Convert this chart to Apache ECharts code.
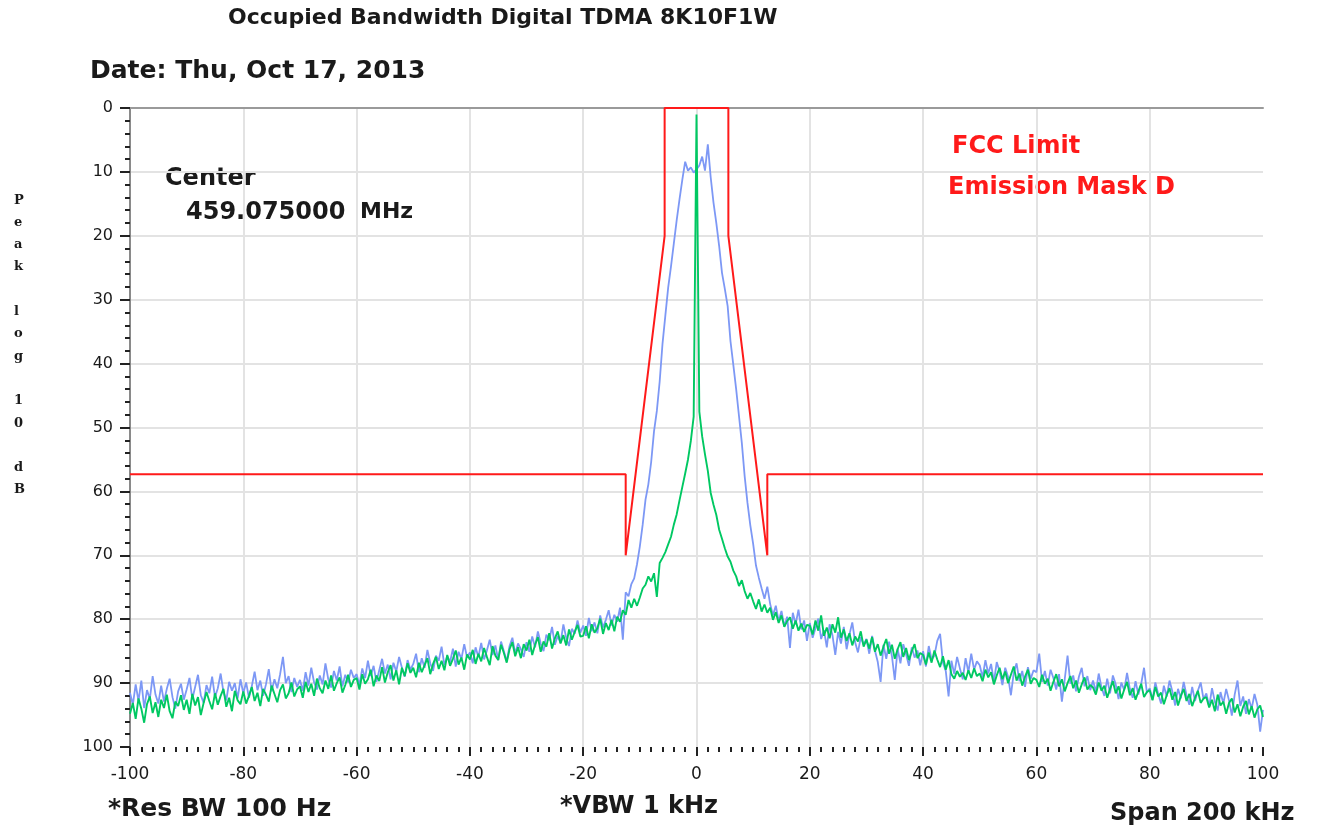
<!DOCTYPE html>
<html>
<head>
<meta charset="utf-8">
<title>Occupied Bandwidth Digital TDMA 8K10F1W</title>
<script src="https://cdn.jsdelivr.net/npm/echarts@6/dist/echarts.min.js"></script>
<style>
  html, body { margin: 0; padding: 0; background: #fff; }
  #chart { width: 1319px; height: 832px; }
</style>
</head>
<body>
<div id="chart"></div>
<script>
// frequency offset axis, kHz (trace sampled every 0.5 kHz)
var freqStart = -100;
var freqStep = 0.5;

// modulated signal (blue), dB below peak, one row per 10 kHz
var blueLevel = [
  91.5, 93.4, 90.2, 92.8, 89.6, 93.9, 91.1, 92.5, 88.9, 91.8, 93.2, 90.4, 92.9, 90.9, 89.3, 92.2, 94.0, 91.3, 90.1, 92.6,
  91.0, 89.2, 92.5, 90.6, 88.7, 91.9, 93.1, 90.3, 91.6, 89.0, 92.2, 90.8, 88.5, 91.4, 92.7, 89.8, 91.2, 90.0, 92.4, 89.4,
  91.6, 89.9, 92.3, 90.5, 88.2, 91.1, 89.6, 92.0, 90.2, 87.8, 91.3, 89.4, 90.8, 88.6, 85.9, 90.0, 88.9, 91.4, 89.2, 90.6,
  89.5, 91.2, 88.3, 90.4, 87.6, 89.9, 91.0, 88.8, 90.2, 86.9, 89.4, 90.7, 88.1, 89.6, 87.4, 90.5, 88.7, 89.9, 87.9, 89.2,
  88.6, 90.3, 87.7, 89.2, 86.5, 88.9, 87.3, 89.8, 88.0, 86.2, 88.5, 87.1, 89.4, 86.8, 88.2, 85.9, 87.6, 89.0, 86.4, 87.9,
  87.0, 85.4, 88.3, 86.1, 87.6, 84.8, 86.9, 88.1, 85.7, 86.5, 84.3, 87.2, 85.8, 86.7, 84.6, 87.4, 85.1, 86.2, 83.9, 86.0,
  85.2, 86.9, 84.4, 85.9, 83.7, 86.3, 84.9, 83.2, 85.6, 84.1, 86.4, 83.5, 85.0, 86.6, 84.2, 82.9, 85.4, 83.8, 84.7, 85.9,
  83.6, 85.1, 82.7, 84.4, 81.9, 83.8, 85.0, 82.4, 83.3, 81.2, 84.0, 82.6, 83.7, 80.8, 82.9, 84.2, 81.5, 82.3, 80.2, 82.1,
  81.0, 82.6, 79.8, 81.9, 80.5, 82.2, 79.4, 81.3, 80.1, 78.6, 81.0, 79.3, 80.4, 78.2, 83.2, 75.8, 76.4, 74.5, 73.6, 71.4,
  68.6, 65.2, 61.3, 58.9, 55.4, 50.6, 47.4, 42.8, 36.9, 32.5, 28.1, 24.8, 21.2, 17.6, 14.3, 11.2, 8.4, 9.8, 9.3, 10.1,
  9.6,
  9.0, 7.6, 9.8, 5.7, 10.8, 14.8, 18.0, 21.6, 25.8, 28.3, 31.0, 36.5, 40.2, 44.0, 48.2, 52.4, 57.6, 61.8, 65.3,
  68.2, 71.6, 73.5, 75.2, 76.8, 74.9, 77.6, 79.4, 77.9, 80.3, 78.7, 81.1, 79.6, 84.5, 79.0, 80.8, 78.5, 81.6, 80.2, 83.4,
  80.6, 82.9, 81.4, 79.9, 83.1, 81.7, 84.4, 80.8, 82.5, 85.6, 82.0, 83.8, 81.2, 84.7, 82.4, 80.5, 83.6, 85.2, 82.8, 84.0,
  83.1, 85.4, 82.6, 84.9, 86.7, 89.8, 84.0, 86.2, 83.5, 85.8, 89.5, 84.6, 86.9, 83.9, 85.5, 87.3, 84.4, 86.0, 84.9, 87.2,
  85.0, 87.4, 84.2, 86.3, 85.7, 83.4, 82.3, 86.8, 88.1, 92.1, 86.5, 88.6, 85.9, 87.7, 89.4, 86.1, 88.3, 85.4, 87.9, 86.6,
  87.2, 89.1, 86.4, 88.5, 87.0, 89.8, 86.7, 88.2, 90.3, 87.6, 89.0, 91.9, 88.4, 86.9, 89.7, 88.1, 90.6, 87.5, 89.3, 88.0,
  88.3, 85.4, 89.8, 88.1, 90.4, 87.9, 89.2, 91.0, 88.6, 92.9, 89.4, 85.7, 90.1, 88.8, 91.3, 89.0, 87.6, 90.5, 88.9, 91.1,
  89.6, 91.4, 88.5, 90.7, 92.0, 89.3, 91.6, 88.8, 90.2, 92.5, 89.9, 91.1, 88.4, 90.9, 92.3, 89.7, 91.8, 90.1, 87.6, 91.5,
  90.8, 92.6, 89.9, 91.7, 93.2, 90.4, 92.1, 89.6, 91.3, 93.5, 90.9, 92.4, 89.8, 91.9, 93.4, 90.6, 92.8, 91.2, 89.9, 92.5,
  91.6, 93.7, 90.8, 92.9, 94.3, 91.4, 93.2, 90.9, 92.7, 95.1, 91.8, 89.6, 93.6, 92.1, 94.8, 92.5, 94.0, 91.7, 93.4, 97.6,
  94.2
];

// unmodulated carrier (green), dB below peak, same sampling
var greenLevel = [
  94.8, 93.1, 95.6, 92.4, 94.0, 96.2, 93.3, 92.1, 94.7, 93.0, 95.3, 92.6, 93.9, 91.8, 94.4, 95.5, 92.9, 93.6, 91.9, 94.2,
  92.6, 94.8, 91.7, 93.5, 92.2, 95.0, 93.1, 91.4, 92.8, 94.1, 91.6, 93.4, 92.0, 90.9, 93.7, 92.3, 94.4, 91.2, 92.7, 93.3,
  91.3, 93.2, 92.0, 90.6, 92.8, 91.5, 93.6, 90.9, 91.8, 92.9, 90.4, 91.7, 93.0, 91.1, 90.2, 92.4, 91.6, 89.9, 92.1, 91.0,
  90.5, 92.3, 89.8, 91.4, 90.1, 92.0, 89.3, 90.8, 91.6, 89.6, 90.9, 88.8, 91.2, 90.0, 89.1, 91.5, 90.3, 88.7, 90.6, 89.5,
  89.2, 91.0, 88.6, 90.1, 89.4, 87.9, 90.5, 88.8, 89.7, 87.5, 89.9, 88.3, 87.2, 89.6, 88.0, 90.2, 87.6, 88.9, 86.9, 88.4,
  87.6, 89.1, 86.8, 88.3, 87.2, 86.1, 88.6, 87.0, 85.9, 87.8, 86.5, 88.0, 85.6, 87.3, 86.2, 84.9, 87.1, 86.0, 87.9, 85.5,
  86.3, 84.8, 87.0, 85.4, 86.6, 84.5, 85.9, 87.2, 84.2, 85.7, 86.4, 84.0, 85.3, 86.8, 84.7, 83.6, 85.8, 84.4, 86.1, 83.9,
  84.9, 83.2, 85.6, 84.0, 82.8, 85.1, 83.5, 84.3, 82.2, 84.6, 83.0, 81.9, 83.8, 82.5, 84.1, 81.6, 83.2, 82.0, 80.9, 82.7,
  82.6, 81.1, 83.0, 80.8, 82.1, 81.4, 79.9, 82.3, 80.6, 81.7, 80.1, 81.9, 79.6, 80.4, 78.6, 79.3, 77.0, 78.2, 76.8, 77.9,
  76.6, 75.2, 74.6, 73.3, 74.1, 72.8, 76.5, 71.2, 70.4, 69.5, 68.3, 67.1, 65.2, 63.6, 61.4, 59.3, 57.2, 55.0, 52.1, 48.3,
  1.0,
  47.5, 51.4, 54.2, 56.8, 60.2, 62.1, 63.7, 66.0, 67.4, 68.9, 70.2, 71.0, 72.4, 73.3, 74.8, 73.9, 75.6, 76.8, 75.9,
  77.2, 78.4, 76.9, 78.8, 77.7, 79.0, 78.2, 80.1, 78.9, 80.6, 79.4, 81.2, 80.3, 79.7, 81.5, 80.2, 81.8, 80.7, 82.0, 80.9,
  81.0, 82.4, 80.2, 81.8, 79.4, 82.6, 81.3, 83.0, 80.8, 82.1, 79.7, 82.9, 81.6, 83.4, 82.2, 84.1, 82.7, 83.5, 81.9, 84.3,
  83.2, 84.6, 82.8, 85.1, 83.9, 85.7, 84.3, 83.1, 85.4, 84.0, 86.2, 84.7, 83.6, 85.9, 84.5, 86.4, 85.0, 83.9, 86.1, 85.3,
  85.6, 87.1, 85.2, 86.8, 84.9, 86.3, 87.5, 85.8, 87.9, 86.4, 88.6, 89.3, 88.1, 89.0, 88.4, 89.5, 88.0, 89.2, 87.7, 88.9,
  88.5, 89.7, 87.9, 89.1, 88.3, 90.2, 88.8, 87.6, 89.4, 88.2, 90.0, 88.7, 87.4, 89.6, 88.5, 90.4, 89.0, 87.9, 90.1, 89.2,
  89.5, 90.6, 88.7, 90.1, 89.3, 91.2, 89.8, 88.6, 90.5, 89.4, 91.3, 90.0, 88.9, 90.8, 89.6, 91.5, 90.2, 89.1, 91.0, 90.3,
  90.7, 91.8, 89.9, 91.2, 90.4, 92.3, 90.9, 89.7, 91.6, 90.5, 92.4, 91.0, 89.8, 91.9, 90.8, 92.6, 91.3, 90.1, 92.2, 91.4,
  91.1, 92.7, 90.6, 92.1, 91.5, 93.3, 91.9, 90.8, 92.6, 91.4, 93.5, 92.0, 90.9, 92.8, 91.7, 93.6, 92.3, 91.2, 93.1, 92.4,
  92.2, 93.8, 92.6, 94.4, 91.8, 93.5, 92.9, 94.8, 93.1, 92.4, 94.6, 93.3, 95.2, 93.7, 92.8, 94.9, 93.6, 95.4, 94.1, 93.5,
  95.3
];

// FCC emission mask D corner points
var maskFreq  = [-100, -12.5, -12.5, -5.625, -5.625, 5.625, 5.625, 12.5, 12.5, 100];
var maskLevel = [57.3, 57.3, 70, 20, 0, 0, 20, 70, 57.3, 57.3];

var yTicks = [0, 10, 20, 30, 40, 50, 60, 70, 80, 90, 100];

function pairs(fx, vals) {
  var out = [];
  for (var i = 0; i < vals.length; i++) out.push([fx(i), vals[i]]);
  return out;
}
var freqAt = function (i) { return freqStart + i * freqStep; };
var bluePts = pairs(freqAt, blueLevel);
var greenPts = pairs(freqAt, greenLevel);
var maskPts = pairs(function (i) { return maskFreq[i]; }, maskLevel);

var txt = '#1a1a1a';
var boldFont = 'DejaVu Sans';

var chart = echarts.init(document.getElementById('chart'));

var option = {
  animation: false,
  backgroundColor: '#fff',
  grid: { left: 130, right: 56, top: 108, bottom: 85 },
  xAxis: [
    {
      type: 'value', min: -100, max: 100, interval: 20, position: 'bottom',
      axisLine: { show: false, onZero: false },
      axisTick: { show: true, length: 9, lineStyle: { color: '#222', width: 2 } },
      minorTick: { show: true, splitNumber: 10, length: 5, lineStyle: { color: '#222', width: 2 } },
      axisLabel: { margin: 19, fontSize: 17, color: txt, fontFamily: 'DejaVu Sans' },
      splitLine: { show: true, showMinLine: false, showMaxLine: false, lineStyle: { color: '#e3e3e3', width: 2 } }
    },
    {
      type: 'value', min: -100, max: 100, position: 'top',
      axisLine: { show: true, onZero: false, lineStyle: { color: '#9a9a9a', width: 2 } },
      axisTick: { show: false }, axisLabel: { show: false }, splitLine: { show: false }
    }
  ],
  yAxis: {
    type: 'value', inverse: true, min: 0, max: 100, interval: 10, position: 'left',
    axisLine: { show: true, onZero: false, lineStyle: { color: '#8a8a8a', width: 2 } },
    axisTick: { show: true, length: 10, lineStyle: { color: '#222', width: 2 } },
    minorTick: { show: true, splitNumber: 5, length: 5, lineStyle: { color: '#222', width: 2 } },
    axisLabel: {
      margin: 17, fontSize: 16, color: txt, fontFamily: 'DejaVu Sans',
      formatter: function (v) { return yTicks.indexOf(v) >= 0 ? String(v) : ''; }
    },
    splitLine: { show: true, showMinLine: false, showMaxLine: false, lineStyle: { color: '#e3e3e3', width: 2 } }
  },
  series: [
    {
      name: 'Modulated', type: 'line', data: bluePts, showSymbol: false,
      lineStyle: { color: '#7d98f5', width: 1.8 }, z: 2
    },
    {
      name: 'Carrier', type: 'line', data: greenPts, showSymbol: false,
      lineStyle: { color: '#00c862', width: 1.9 }, z: 3
    },
    {
      name: 'FCC Limit', type: 'line', data: maskPts, showSymbol: false,
      lineStyle: { color: '#ff1a1a', width: 2 }, z: 4
    }
  ],
  graphic: [
    { type: 'text', left: 228, top: 7, style: { text: 'Occupied Bandwidth Digital TDMA 8K10F1W', fontSize: 22, fontWeight: 'bold', fontFamily: boldFont, fill: txt } },
    { type: 'text', left: 90, top: 59, style: { text: 'Date: Thu, Oct 17, 2013', fontSize: 25, fontWeight: 'bold', fontFamily: boldFont, fill: txt } },
    { type: 'text', left: 165, top: 167, style: { text: 'Center', fontSize: 24, fontWeight: 'bold', fontFamily: boldFont, fill: txt } },
    { type: 'text', left: 186, top: 201, style: { text: '459.075000', fontSize: 24, fontWeight: 'bold', fontFamily: boldFont, fill: txt } },
    { type: 'text', left: 360, top: 201, style: { text: 'MHz', fontSize: 22, fontWeight: 'bold', fontFamily: boldFont, fill: txt } },
    { type: 'text', left: 952, top: 135, style: { text: 'FCC Limit', fontSize: 24, fontWeight: 'bold', fontFamily: boldFont, fill: '#ff1a1a' } },
    { type: 'text', left: 948, top: 176, style: { text: 'Emission Mask D', fontSize: 24, fontWeight: 'bold', fontFamily: boldFont, fill: '#ff1a1a' } },
    { type: 'text', left: 108, top: 797, style: { text: '*Res BW 100 Hz', fontSize: 25, fontWeight: 'bold', fontFamily: boldFont, fill: txt } },
    { type: 'text', left: 560, top: 795, style: { text: '*VBW 1 kHz', fontSize: 24, fontWeight: 'bold', fontFamily: boldFont, fill: txt } },
    { type: 'text', left: 1110, top: 802, style: { text: 'Span 200 kHz', fontSize: 24, fontWeight: 'bold', fontFamily: boldFont, fill: txt } },
    // vertical axis caption, one letter per line
    { type: 'text', left: 14, top: 189, style: { text: 'P\ne\na\nk\n\nl\no\ng\n\n1\n0\n\nd\nB', fontSize: 13, lineHeight: 22.3, fontWeight: 'bold', fontFamily: 'DejaVu Serif', fill: txt, align: 'center' } }
  ]
};

chart.setOption(option);
</script>
</body>
</html>
